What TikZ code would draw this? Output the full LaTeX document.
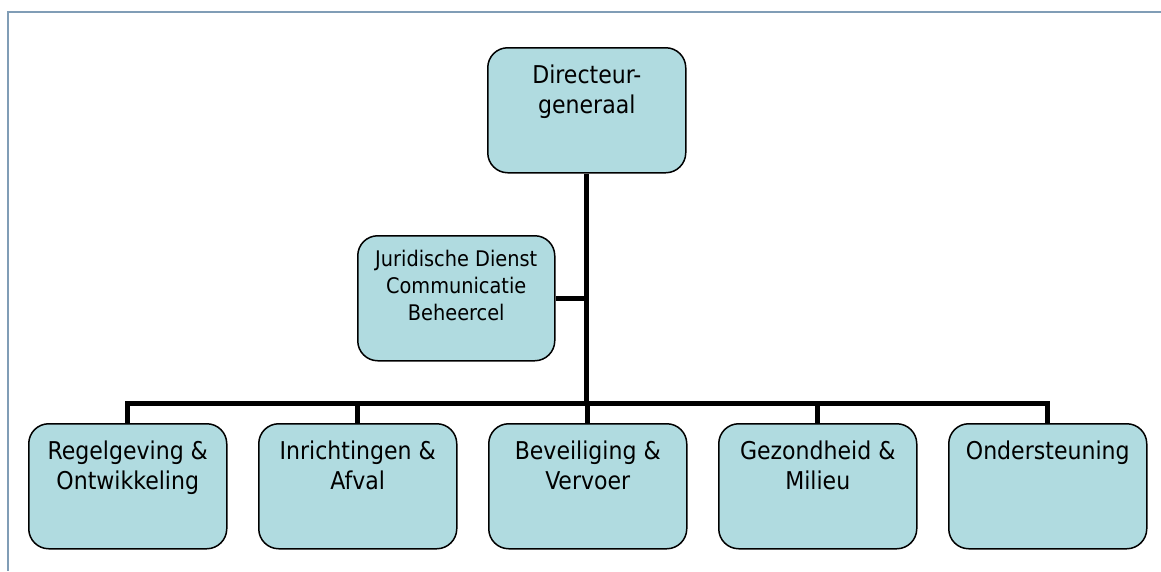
\documentclass[tikz,border=0pt]{standalone}
\usepackage{fontspec}
\setmainfont{DejaVu Sans Condensed}
\definecolor{boxfill}{RGB}{176,219,224}
\definecolor{frameblue}{RGB}{128,157,182}
\newcommand{\bigtext}[1]{\parbox[t][120pt][t]{196pt}{\centering\fontsize{24.5}{30.5}\selectfont\rule{0pt}{33pt}#1}}
\newcommand{\smalltext}[1]{\parbox[t][120pt][t]{196pt}{\centering\fontsize{21.5}{27}\selectfont\rule{0pt}{28.5pt}#1}}
\begin{document}
\begin{tikzpicture}[x=1pt,y=-1pt,
  orgbox/.style={draw=black, line width=1.5pt, fill=boxfill, rounded corners=20pt,
    minimum width=198pt, minimum height=125pt, inner sep=0pt, anchor=north west},
  link/.style={line width=5pt}]
\useasboundingbox (0,0) rectangle (1161,571);
\draw[frameblue, line width=1.8pt] (1161,12) -- (8,12) -- (8,571);

\node[orgbox] (dg) at (487,47) {\bigtext{Directeur-\\generaal}};
\node[orgbox, minimum width=197pt] (staff) at (357,235) {\smalltext{Juridische Dienst\\Communicatie\\Beheercel}};
\node[orgbox] (b1) at (28,423) {\bigtext{Regelgeving \&\\Ontwikkeling}};
\node[orgbox] (b2) at (258,423) {\bigtext{Inrichtingen \&\\Afval}};
\node[orgbox] (b3) at (488,423) {\bigtext{Beveiliging \&\\Vervoer}};
\node[orgbox] (b4) at (718,423) {\bigtext{Gezondheid \&\\Milieu}};
\node[orgbox] (b5) at (948,423) {\bigtext{Ondersteuning}};

\coordinate (bus) at (587,403);
\draw[link] (dg.south) -- (dg.south |- bus);
\draw[link] (staff.east) -- (staff.east -| bus);
\draw[link] (b1.north) |- (bus) -| (b5.north);
\draw[link] (b2.north) -- (b2.north |- bus);
\draw[link] (b3.north) -- (b3.north |- bus);
\draw[link] (b4.north) -- (b4.north |- bus);
\end{tikzpicture}
\end{document}
